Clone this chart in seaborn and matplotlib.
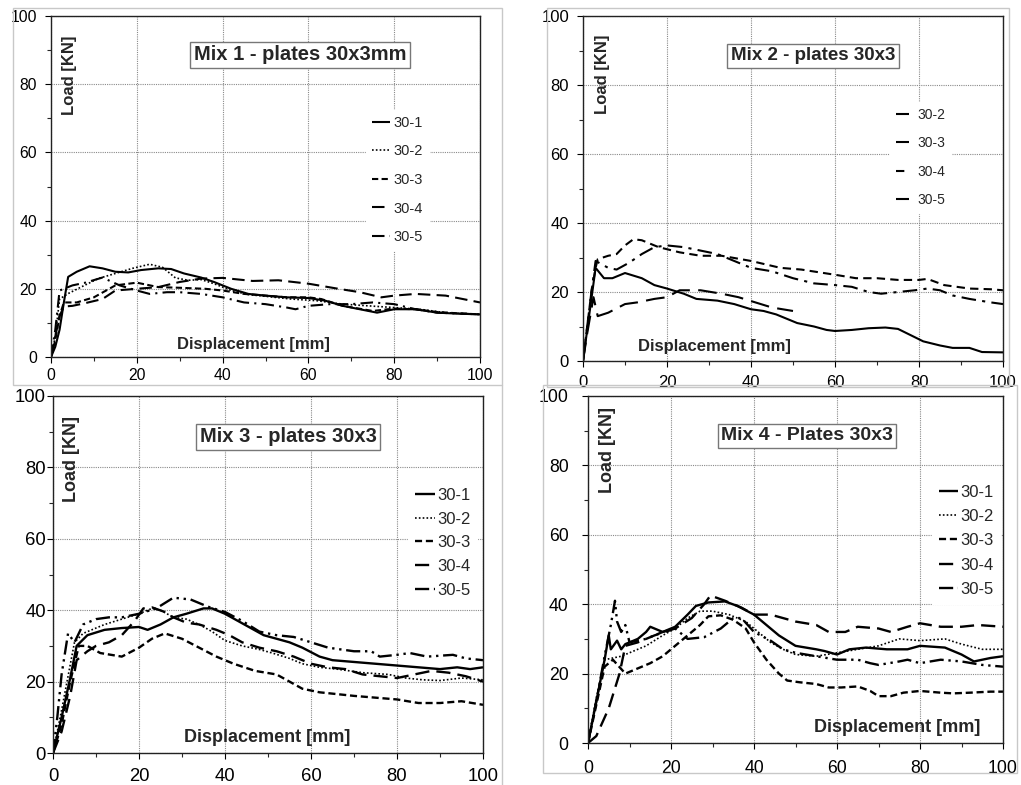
import numpy as np
import pandas as pd
import matplotlib
matplotlib.use("Agg")
import matplotlib.pyplot as plt
from matplotlib.patches import Rectangle
from matplotlib.lines import Line2D
import seaborn as sns

sns.set_style("white")
plt.rcParams['font.family'] = ['Liberation Sans', 'DejaVu Sans']

# ---------------- DATA ----------------
# Mix 1
m1_labels = ["30-1", "30-2", "30-3", "30-4", "30-5"]
m1_30_1_x = [0, 1, 2, 3, 4, 6, 9, 12, 15, 18, 21, 25, 28, 31, 35, 38, 42, 46, 50, 55, 60, 64, 68, 72, 76, 80, 85, 90, 95, 100]
m1_30_1_y = [0, 3, 8, 16, 23.5, 25, 26.6, 26, 25, 24.8, 25.5, 26, 25.8, 24.5, 23.3, 22, 20, 18.5, 18, 17.5, 17.3, 16.5, 15, 14, 13, 14, 14, 13, 12.7, 12.5]
m1_30_2_x = [0, 1, 2, 4, 7, 11, 15, 19, 23, 26, 29, 32, 35, 38, 42, 46, 50, 56, 62, 68, 74, 80, 86, 92, 100]
m1_30_2_y = [0, 6, 17, 18.6, 20.5, 23, 24.5, 26, 27.2, 26.3, 23.2, 22.5, 22.7, 21.5, 19.5, 18.3, 17.8, 17, 16.5, 15.5, 15, 14.5, 14, 13, 12.5]
m1_30_3_x = [0, 1, 2, 3, 6, 10, 15, 20, 25, 30, 36, 40, 45, 50, 55, 60, 63, 68, 75, 80, 85, 90, 95, 100]
m1_30_3_y = [0, 5, 12, 16, 16, 17.5, 21, 21.8, 20.5, 20.3, 20, 19.5, 18.5, 18, 17.5, 17.5, 17, 15, 13.5, 14.2, 14, 13.2, 12.8, 12.5]
m1_30_4_x = [0, 1, 2, 3, 5, 8, 12, 15, 20, 25, 30, 35, 40, 47, 53, 60, 67, 72, 77, 80, 85, 92, 100]
m1_30_4_y = [0, 6, 12, 14.8, 15, 15.8, 17, 19.5, 20, 20.5, 22, 23, 23.2, 22.3, 22.5, 21.5, 20, 19, 17.5, 18, 18.5, 18, 16]
m1_30_5_x = [0, 1, 2, 5, 8, 12, 16, 20, 23, 27, 30, 35, 40, 45, 50, 55, 57, 60, 65, 70, 75, 80, 85, 90, 100]
m1_30_5_y = [0, 8, 19.5, 21, 21.8, 23.3, 21, 19.5, 18.5, 19, 19, 18.5, 17.5, 16, 15.5, 14.5, 14, 15, 15.5, 15.5, 16, 15.5, 14, 13, 12.5]

# Mix 2
m2_labels = ["30-2", "30-3", "30-4", "30-5"]
m2_30_2_x = [0, 1, 2, 2.5, 3.5, 6, 10, 13, 17, 20, 23, 28, 33, 37, 41, 45, 50]
m2_30_2_y = [0, 8, 15, 18.5, 13, 14, 16.5, 17, 18, 18.5, 20.5, 20.5, 19.5, 18.5, 17, 15.5, 14.5]
m2_30_3_x = [0, 1, 2, 3, 5, 7, 10, 14, 17, 20, 24, 27, 32, 36, 40, 43, 46, 51, 55, 58, 60, 64, 68, 72, 75, 78, 81, 85, 88, 92, 95, 100]
m2_30_3_y = [0, 9, 18, 27, 24, 24, 25.5, 24, 22, 21, 19.5, 18, 17.5, 16.5, 15, 14.5, 13.5, 11, 10, 9, 8.7, 9, 9.5, 9.7, 9.3, 7.5, 5.7, 4.5, 3.8, 3.8, 2.6, 2.5]
m2_30_4_x = [0, 1, 2, 3, 3.5, 6, 8, 10, 12, 14, 18, 23, 28, 33, 40, 47, 52, 60, 65, 70, 75, 80, 82, 86, 92, 97, 100]
m2_30_4_y = [0, 10, 20, 27, 29.5, 30.5, 31, 33.5, 35.3, 35, 33, 31.5, 30.5, 30.5, 29, 27, 26.5, 25, 24, 24, 23.5, 23.5, 23.8, 22, 21, 20.8, 20.5]
m2_30_5_x = [0, 1, 2, 3, 6, 8, 11, 14, 17, 20, 24, 28, 32, 36, 40, 45, 50, 55, 60, 64, 68, 71, 75, 79, 82, 85, 88, 92, 97, 100]
m2_30_5_y = [0, 10, 20, 29, 27, 26.5, 28.5, 31, 33, 33.5, 33, 32, 31, 29, 27, 26, 24, 22.5, 22, 21.5, 20, 19.5, 20, 20.5, 21, 20.5, 19, 18, 17, 16.5]

# Mix 3
m3_labels = ["30-1", "30-2", "30-3", "30-4", "30-5"]
m3_30_1_x = [0, 2, 4, 5.5, 8, 12, 16, 20, 22, 25, 28, 31, 35, 37, 40, 43, 46, 49, 52, 55, 58, 62, 65, 70, 75, 80, 85, 90, 94, 97, 100]
m3_30_1_y = [0, 10, 21, 30, 33, 34.5, 35, 35.3, 34.5, 36, 38, 39, 40.5, 40.5, 39, 37, 35, 33, 32, 31, 29.5, 27, 26, 25.5, 25, 24.5, 24, 23.5, 24, 23.5, 24]
m3_30_2_x = [0, 2, 5, 7, 12, 16, 20, 23, 25, 28, 31, 34, 37, 40, 44, 48, 51, 55, 58, 62, 66, 72, 78, 82, 86, 90, 95, 100]
m3_30_2_y = [0, 12, 31, 33.5, 36, 37.5, 39, 40.5, 40, 38, 37.5, 36, 34, 31.5, 30, 29, 28, 26.5, 25, 24, 23.5, 22.5, 22, 21, 20.5, 20.3, 21, 20.5]
m3_30_3_x = [0, 2, 4, 6, 8, 11, 16, 20, 23, 26, 30, 34, 38, 42, 47, 52, 55, 58, 62, 66, 70, 75, 80, 85, 90, 95, 100]
m3_30_3_y = [0, 8, 20, 30, 30, 28, 27, 29.5, 32, 33.5, 32, 29.5, 27, 25, 23, 22, 20, 18, 17, 16.5, 16, 15.5, 15, 14, 14, 14.5, 13.5]
m3_30_4_x = [0, 2, 4, 5.5, 8, 10, 13, 16, 19, 21, 23, 26, 28, 31, 34, 38, 41, 44, 48, 52, 56, 60, 64, 68, 72, 76, 80, 84, 88, 92, 96, 100]
m3_30_4_y = [0, 6, 16, 26, 28.5, 30, 31, 33, 37, 40.5, 40.8, 39.5, 38, 36.5, 36, 34.5, 33, 31, 29.5, 28.5, 27, 25, 24, 23.5, 22, 21.5, 21, 22, 23, 22.5, 21.5, 20]
m3_30_5_x = [0, 1, 2, 3.5, 5, 7, 10, 13, 16, 20, 24, 28, 32, 36, 40, 44, 48, 52, 56, 60, 64, 70, 74, 76, 80, 83, 87, 93, 96, 100]
m3_30_5_y = [0, 10, 22, 33.5, 31, 36, 37.5, 38, 38, 39, 40.5, 43.5, 43, 41, 39.5, 37, 34, 33, 32.5, 31, 29.5, 28.5, 28.5, 27, 27.5, 28, 27, 27.5, 26.5, 26]

# Mix 4
m4_labels = ["30-1", "30-2", "30-3", "30-4", "30-5"]
m4_30_1_x = [0, 2, 4, 5, 5.5, 7, 8, 9, 12, 14, 15, 18, 21, 24, 26, 29, 33, 36, 40, 43, 46, 50, 55, 57, 60, 63, 67, 72, 77, 80, 86, 90, 93, 97, 100]
m4_30_1_y = [0, 12, 24, 31, 27, 29.5, 27, 28.5, 30, 32, 33.5, 32, 33.5, 37, 39.5, 40.5, 40.8, 39.5, 37, 34, 31, 28, 27, 26.5, 25.5, 27, 27.5, 27, 27, 28, 27.5, 25.5, 23.5, 24.5, 25]
m4_30_2_x = [0, 2, 4, 8, 10, 14, 18, 21, 24, 27, 30, 34, 38, 41, 44, 47, 50, 55, 60, 65, 70, 75, 80, 86, 90, 95, 100]
m4_30_2_y = [0, 13, 24, 25, 26, 28, 31, 33, 36, 38, 38, 37, 35, 32, 29, 27, 25.5, 25, 26, 27, 28, 30, 29.5, 30, 28.5, 27, 27]
m4_30_3_x = [0, 2, 4, 6, 9, 12, 15, 18, 21, 24, 27, 29, 32, 35, 38, 40, 43, 46, 48, 51, 55, 58, 61, 65, 68, 70, 73, 76, 80, 85, 88, 92, 97, 100]
m4_30_3_y = [0, 11, 22, 24, 20, 21.5, 23, 25, 28, 31, 34, 36.5, 36.8, 35.5, 33, 29, 24, 20, 18, 17.5, 17, 16, 16, 16.3, 15, 13.5, 13.5, 14.5, 15, 14.5, 14.3, 14.5, 14.8, 14.8]
m4_30_4_x = [0, 2, 5, 7.6, 9, 12, 16, 21, 25, 28, 29.5, 33, 37, 40, 44, 50, 55, 58, 62, 65, 70, 73, 77, 80, 85, 90, 94, 100]
m4_30_4_y = [0, 2, 10, 20, 28, 29, 31, 33, 36, 40, 42.5, 41, 39, 37, 37, 35, 34, 32, 32, 33.5, 33, 32, 33.5, 34.5, 33.5, 33.5, 34, 33.5]
m4_30_5_x = [0, 2, 4, 5.5, 6.5, 7, 8, 9, 10, 14, 18, 21, 24, 28, 32, 35, 37, 40, 44, 47, 50, 55, 60, 65, 68, 70, 75, 77, 80, 85, 90, 95, 100]
m4_30_5_y = [0, 12, 25, 34, 41, 35, 32, 34, 29, 30, 32, 33, 30, 30.5, 33, 36, 36, 32, 29.5, 27, 26, 25, 24, 24, 23, 22.5, 23.5, 24, 23, 24, 23.5, 22.5, 22]

x_ticks = [0, 20, 40, 60, 80, 100]
y_ticks = [0, 20, 40, 60, 80, 100]
titles = ["Mix 1 - plates 30x3mm", "Mix 2 - plates 30x3", "Mix 3 - plates 30x3", "Mix 4 - Plates 30x3"]
y_label = "Load [KN]"
x_label = "Displacement [mm]"

# ---------------- LAYOUT ----------------
W, H = 1021, 785
fig = plt.figure(figsize=(W / 100, H / 100), dpi=100)
fig.patch.set_facecolor("white")


def fx(x):
    return x / W


def fy(y):
    return 1 - y / H


def add_ax(l, t, r, b):
    return fig.add_axes([fx(l), fy(b), (r - l) / W, (b - t) / H])


# outer panel frames
frame_col = "#c8c8c8"
fig.add_artist(Rectangle((fx(13), fy(385)), (502 - 13) / W, (385 - 8) / H, transform=fig.transFigure,
                         fill=False, ec=frame_col, lw=1))
fig.add_artist(Rectangle((fx(547), fy(387)), (1009 - 547) / W, (387 - 8) / H, transform=fig.transFigure,
                         fill=False, ec=frame_col, lw=1))
fig.add_artist(Line2D([fx(502), fx(502)], [fy(385), fy(785)], transform=fig.transFigure, color=frame_col, lw=1))
fig.add_artist(Rectangle((fx(543), fy(773)), (1017 - 543) / W, (773 - 385) / H, transform=fig.transFigure,
                         fill=False, ec=frame_col, lw=1))

solid = (0, ())
dotted = (0, (1, 1.3))
shortdash = (0, (3, 1.6))
longdash = (0, (6, 3))
dashdot = (0, (6, 2.5, 1, 2.5))
dashdotdot = (0, (6, 2, 1, 2, 1, 2))

panels = [
    dict(rect=(51, 16, 480, 357), tick_fs=11.3, ylab_pad=6, xlab_pad=4, lw=1.5,
         series=[(m1_30_1_x, m1_30_1_y, solid), (m1_30_2_x, m1_30_2_y, dotted),
                 (m1_30_3_x, m1_30_3_y, shortdash), (m1_30_4_x, m1_30_4_y, longdash),
                 (m1_30_5_x, m1_30_5_y, dashdot)],
         labels=m1_labels, leg_xy=(366, 110), leg_fs=10.5, leg_sp=1.0, hl=1.25, htp=0.25,
         title_xy=(300, 55), title_fs=14.5, ylab_xy=(69, 75), xlab_xy=(253, 344), lab_fs=12),
    dict(rect=(583, 16, 1003, 361), tick_fs=12, ylab_pad=6, xlab_pad=6, lw=1.5,
         series=[(m2_30_2_x, m2_30_2_y, (0, (9, 4))), (m2_30_3_x, m2_30_3_y, solid),
                 (m2_30_4_x, m2_30_4_y, (0, (4, 2.5))), (m2_30_5_x, m2_30_5_y, (0, (7, 3, 1.5, 3)))],
         labels=m2_labels, leg_xy=(890, 102), leg_fs=10, leg_sp=1.05, hl=1.0, htp=0.6,
         title_xy=(813, 56), title_fs=13.5, ylab_xy=(603, 74), xlab_xy=(714, 347), lab_fs=12),
    dict(rect=(53, 396, 483, 753), tick_fs=13.3, ylab_pad=1, xlab_pad=7, lw=1.7,
         series=[(m3_30_1_x, m3_30_1_y, solid), (m3_30_2_x, m3_30_2_y, dotted),
                 (m3_30_3_x, m3_30_3_y, shortdash), (m3_30_4_x, m3_30_4_y, longdash),
                 (m3_30_5_x, m3_30_5_y, dashdotdot)],
         labels=m3_labels, leg_xy=(408, 481), leg_fs=12, leg_sp=0.53, hl=1.2, htp=0.15,
         title_xy=(288, 437), title_fs=14.5, ylab_xy=(71, 459), xlab_xy=(267, 737), lab_fs=13),
    dict(rect=(588, 396, 1003, 743), tick_fs=12.7, ylab_pad=10, xlab_pad=8, lw=1.7,
         series=[(m4_30_1_x, m4_30_1_y, solid), (m4_30_2_x, m4_30_2_y, dotted),
                 (m4_30_3_x, m4_30_3_y, shortdash), (m4_30_4_x, m4_30_4_y, longdash),
                 (m4_30_5_x, m4_30_5_y, dashdotdot)],
         labels=m4_labels, leg_xy=(932, 478), leg_fs=12, leg_sp=0.56, hl=1.15, htp=0.15,
         title_xy=(807, 436), title_fs=14, ylab_xy=(607, 450), xlab_xy=(897, 728), lab_fs=13),
]

for i, p in enumerate(panels):
    ax = add_ax(*p["rect"])
    ax.set_facecolor("white")
    for (xs, ys, ls), lab in zip(p["series"], p["labels"]):
        sns.lineplot(x=xs, y=ys, ax=ax, color="black", linestyle=ls, lw=p["lw"] if ls != dotted else 1.2,
                     sort=False, estimator=None, label=lab, legend=False)
    ax.set_xlim(0, 100)
    ax.set_ylim(0, 100)
    ax.set_xticks(x_ticks)
    ax.set_yticks(y_ticks)
    ax.set_xticks(np.arange(10, 100, 20), minor=True)
    ax.set_yticks(np.arange(10, 100, 20), minor=True)
    ax.set_xlabel("")
    ax.set_ylabel("")
    ax.grid(True, which="major", color="#8a8a8a", linestyle=(0, (1, 1)), lw=0.8)
    ax.set_axisbelow(True)
    for s in ax.spines.values():
        s.set_visible(True)
        s.set_color("#222222")
        s.set_linewidth(1.0)
    ax.tick_params(axis="both", which="major", direction="out", length=4, width=0.8,
                   labelsize=p["tick_fs"], colors="black", bottom=True, left=True)
    ax.tick_params(axis="both", which="minor", direction="out", length=3, width=0.8, bottom=True, left=True)
    ax.tick_params(axis="y", which="major", pad=p["ylab_pad"])
    ax.tick_params(axis="x", which="major", pad=p["xlab_pad"])

    handles = [Line2D([], [], color="black", lw=p["lw"] if ls != dotted else 1.2, linestyle=ls)
               for (_, _, ls) in p["series"]]
    lx, ly = p["leg_xy"]
    leg = ax.legend(handles, p["labels"], loc="upper left", bbox_to_anchor=(fx(lx), fy(ly)),
                    bbox_transform=fig.transFigure, frameon=True, fontsize=p["leg_fs"],
                    handlelength=p["hl"], handletextpad=p["htp"], labelspacing=p["leg_sp"],
                    borderpad=0.4, borderaxespad=0, fancybox=False)
    leg.get_frame().set_facecolor("white")
    leg.get_frame().set_edgecolor("white")
    leg.get_frame().set_alpha(1)

    tx, ty = p["title_xy"]
    fig.text(fx(tx), fy(ty), titles[i], ha="center", va="center", fontsize=p["title_fs"], fontweight="bold",
             bbox=dict(boxstyle="square,pad=0.18", fc="white", ec="#777777", lw=1))
    yx, yy = p["ylab_xy"]
    fig.text(fx(yx), fy(yy), y_label, ha="center", va="center", rotation=90,
             fontsize=p["lab_fs"], fontweight="bold")
    xx, xy = p["xlab_xy"]
    fig.text(fx(xx), fy(xy), x_label, ha="center", va="center", fontsize=p["lab_fs"], fontweight="bold")

fig.savefig("out.png", dpi=100, facecolor="white")
